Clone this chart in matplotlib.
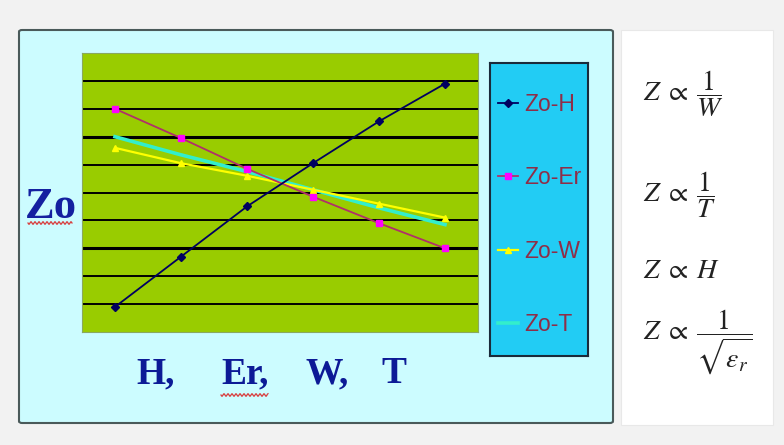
import numpy as np
import matplotlib.pyplot as plt
from matplotlib.patches import Rectangle, FancyBboxPatch
from matplotlib.lines import Line2D

# data (y on a 0-10 scale, 6 categories)
x_pos = [0, 1, 2, 3, 4, 5]
zo_h = [0.9, 2.7, 4.5, 6.05, 7.55, 8.9]
zo_er = [8.0, 6.95, 5.85, 4.85, 3.9, 3.0]
zo_w = [6.6, 6.05, 5.6, 5.1, 4.6, 4.1]
zo_t = [7.0, 6.35, 5.75, 5.1, 4.45, 3.85]
series_names = ['Zo-H', 'Zo-Er', 'Zo-W', 'Zo-T']
grid_levels = [1, 2, 3, 4, 5, 6, 7, 8, 9]
thick_levels = [3, 7]

W, H = 784, 445
plt.rcParams['mathtext.fontset'] = 'stix'
fig = plt.figure(figsize=(7.84, 4.45), dpi=100)
fig.patch.set_facecolor('#f2f2f2')

def fx(px):
    return px / W

def fy(py):
    return 1 - py / H

# light cyan panel and white formula panel (behind the axes)
fig.patches.append(FancyBboxPatch((fx(19), fy(423)), fx(613) - fx(19), fy(30) - fy(423),
                                  boxstyle='round,pad=0,rounding_size=0.004',
                                  transform=fig.transFigure, facecolor='#ccfcff',
                                  edgecolor='#4a5a5a', lw=1.5, zorder=-5))
fig.patches.append(Rectangle((fx(621), fy(425)), fx(773) - fx(621), fy(30) - fy(425),
                             transform=fig.transFigure, facecolor='white',
                             edgecolor='#e8e8e8', lw=0.8, zorder=-5))

# plot area
ax = fig.add_axes([fx(82), fy(332), fx(478) - fx(82), fy(53) - fy(332)])
ax.set_facecolor('#99cc00')
ax.set_xlim(-0.5, 5.5)
ax.set_ylim(0, 10)
for lv in grid_levels:
    lw = 2.2 if lv in thick_levels else 1.4
    ax.axhline(lv, color='black', lw=lw, zorder=1)
for s in ax.spines.values():
    s.set_color('#8aa860')
    s.set_linewidth(0.8)
ax.set_xticks([])
ax.set_yticks([])

ax.plot(x_pos, zo_h, color='#000060', lw=1.3, marker='D', ms=4, zorder=5, label=series_names[0])
ax.plot(x_pos, zo_er, color='#b0306a', lw=1.3, marker='s', ms=4,
        mfc='#ff00ff', mec='#ff00ff', zorder=4, label=series_names[1])
ax.plot(x_pos, zo_w, color='#ffff00', lw=1.6, marker='^', ms=4, zorder=3, label=series_names[2])
ax.plot(x_pos, zo_t, color='#33eecc', lw=2.6, zorder=2, label=series_names[3])

# legend box
lax = fig.add_axes([fx(490), fy(356), fx(588) - fx(490), fy(63) - fy(356)])
lax.set_facecolor('#22ccf4')
lax.set_xticks([])
lax.set_yticks([])
for s in lax.spines.values():
    s.set_color('#1a2a3a')
    s.set_linewidth(1.5)
handles, labels = ax.get_legend_handles_labels()
leg = lax.legend(handles, labels, loc='center left', bbox_to_anchor=(0, 0.483),
                 frameon=False, handlelength=0.85, handletextpad=0.3,
                 labelspacing=2.2, borderpad=0, borderaxespad=0.35,
                 prop={'family': 'Liberation Sans', 'size': 16.5},
                 labelcolor='#8e2e48')

# axis texts
fig.text(fx(25), fy(218), 'Zo', family='Liberation Serif', weight='bold',
         size=32, color='#1420a0', va='baseline', ha='left')
for lab, px in zip(['H,', 'Er,', 'W,', 'T'], [136, 221, 306, 381]):
    fig.text(fx(px), fy(383), lab, family='Liberation Serif', weight='bold',
             size=27, color='#0c1a96', va='baseline', ha='left')

# red spell-check squiggles under "Zo" and "Er"
for x0, x1, py in [(28, 72, 223), (221, 268, 395)]:
    sx = np.linspace(x0, x1, 80)
    sy = py + 1.3 * np.sin((sx - x0) / 4.0 * 2 * np.pi)
    fig.add_artist(Line2D(fx(sx), fy(sy), color='#d84040', lw=0.9))

# formulas
formulas = [r'$Z\;\propto\;\dfrac{1}{W}$', r'$Z\;\propto\;\dfrac{1}{T}$',
            r'$Z\;\propto\;H$', r'$Z\;\propto\;\dfrac{1}{\sqrt{\varepsilon_r}}$']
form_y = [94, 195, 270, 342]
for f, py in zip(formulas, form_y):
    fig.text(fx(643), fy(py), f, size=20, color='#222222', va='center', ha='left')

fig.savefig('out.png', dpi=100, facecolor=fig.get_facecolor())
